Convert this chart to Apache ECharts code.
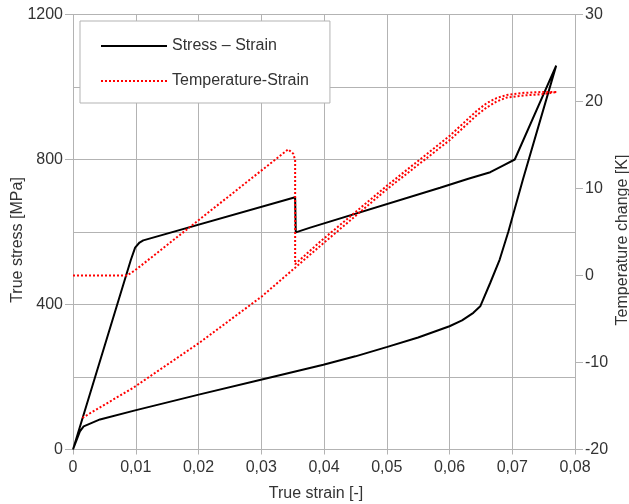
<!DOCTYPE html>
<html>
<head>
<meta charset="utf-8">
<script src="https://cdn.jsdelivr.net/npm/echarts@6/dist/echarts.min.js"></script>
<style>
html,body{margin:0;padding:0;background:#fff;}
#chart{width:629px;height:504px;}
</style>
</head>
<body>
<div id="chart"></div>
<script>
// stress path: loading, jump at 0.035, then unloading back to zero
var stressX = [0, 0.0092, 0.0099, 0.0106, 0.0112, 0.0354, 0.0355, 0.0378, 0.0585, 0.0630, 0.0665, 0.0686, 0.0704, 0.0770,
               0.0717, 0.0694, 0.0680, 0.0665, 0.0649, 0.0638, 0.0620, 0.0600, 0.0550, 0.0501, 0.0450,
               0.0399, 0.0301, 0.0202, 0.0099, 0.0043, 0.0017, 0.0011, 0];
var stressY = [0, 522, 557, 571, 577, 696, 599, 612, 722, 747, 765, 784, 800, 1059,
               745, 602, 524, 460, 395, 377, 356, 340, 309, 283, 257,
               234, 193, 152, 108, 83, 64, 50, 0];

// temperature path (right axis)
var tempX = [0, 0.0086, 0.0099, 0.0343, 0.0351, 0.0354, 0.0354, 0.0394, 0.0500, 0.0601, 0.0643, 0.0659,
             0.0675, 0.0691, 0.0720, 0.0750, 0.0771,
             0.0771, 0.0750, 0.0720, 0.0691, 0.0675, 0.0659, 0.0643, 0.0601, 0.0500, 0.0394, 0.0354,
             0.0301, 0.0202, 0.0096, 0.0014];
var tempY = [0, 0, 0.6, 14.5, 14.0, 13.3, 1.3, 3.9, 10.3, 16.1, 18.9, 19.8,
             20.4, 20.75, 21.0, 21.1, 21.1,
             20.9, 20.85, 20.7, 20.45, 20.0, 19.3, 18.4, 15.6, 9.9, 3.4, 0.9,
             -2.4, -7.7, -12.9, -16.4];

var gridCol = '#b3b3b3';
var txtCol = '#333';
var fnt = 'Liberation Sans';

function zip(xs, ys){
    var out = [];
    for (var i = 0; i < xs.length; i++) out.push([xs[i], ys[i]]);
    return out;
}

var myChart = echarts.init(document.getElementById('chart'));
myChart.setOption({
    animation: false,
    textStyle: {fontFamily: fnt},
    grid: {left: 73, right: 54, top: 14.5, bottom: 54.5, containLabel: false, outerBoundsMode: 'none'},
    legend: {
        left: 80, top: 21,
        orient: 'vertical',
        backgroundColor: '#fff',
        borderColor: gridCol, borderWidth: 1,
        padding: [17, 21, 14, 20],
        itemWidth: 66, itemHeight: 14, itemGap: 19,
        itemStyle: {opacity: 0},
        textStyle: {fontSize: 16, color: txtCol, fontFamily: fnt},
        data: ['Stress – Strain', 'Temperature-Strain']
    },
    xAxis: {
        type: 'value', min: 0, max: 0.08, interval: 0.01,
        name: 'True strain [-]', nameLocation: 'middle', nameGap: 36, nameMoveOverlap: false,
        nameTextStyle: {fontSize: 16, color: txtCol, padding: [0, 16, 0, 0]},
        axisLine: {show: true, lineStyle: {color: gridCol}},
        axisTick: {show: true, length: 5, lineStyle: {color: gridCol}},
        axisLabel: {
            fontSize: 16, color: txtCol, margin: 10,
            formatter: function(v){ return v === 0 ? '0' : v.toFixed(2).replace('.', ','); }
        },
        splitLine: {show: true, lineStyle: {color: gridCol, width: 1}}
    },
    yAxis: [{
        type: 'value', min: 0, max: 1200, interval: 400,
        name: 'True stress [MPa]', nameLocation: 'middle', nameGap: 47, nameMoveOverlap: false,
        nameTextStyle: {fontSize: 16, color: txtCol, padding: [0, 16, 0, 0]},
        axisLine: {show: true, lineStyle: {color: gridCol}},
        axisTick: {show: true, length: 8, lineStyle: {color: gridCol}},
        axisLabel: {fontSize: 16, color: txtCol, margin: 10, formatter: function(v){ return String(v); }},
        splitLine: {show: true, lineStyle: {color: gridCol, width: 1}},
        minorTick: {show: false, splitNumber: 2},
        minorSplitLine: {show: true, lineStyle: {color: gridCol, width: 1}}
    }, {
        type: 'value', min: -20, max: 30, interval: 10, position: 'right',
        name: 'Temperature change [K]', nameLocation: 'middle', nameGap: 40, nameMoveOverlap: false,
        nameTextStyle: {fontSize: 16, color: txtCol, padding: [0, 16, 0, 0]},
        axisLine: {show: true, lineStyle: {color: gridCol}},
        axisTick: {show: true, length: 8, lineStyle: {color: gridCol}},
        axisLabel: {fontSize: 16, color: txtCol, margin: 10, formatter: function(v){ return String(v); }},
        splitLine: {show: false}
    }],
    series: [{
        name: 'Stress – Strain',
        type: 'line', yAxisIndex: 0,
        symbol: 'none',
        color: '#000',
        lineStyle: {color: '#000', width: 2},
        data: zip(stressX, stressY)
    }, {
        name: 'Temperature-Strain',
        type: 'line', yAxisIndex: 1,
        symbol: 'none',
        color: '#ff0000',
        lineStyle: {color: '#ff0000', width: 2, type: [2, 2]},
        data: zip(tempX, tempY)
    }]
});
</script>
</body>
</html>
